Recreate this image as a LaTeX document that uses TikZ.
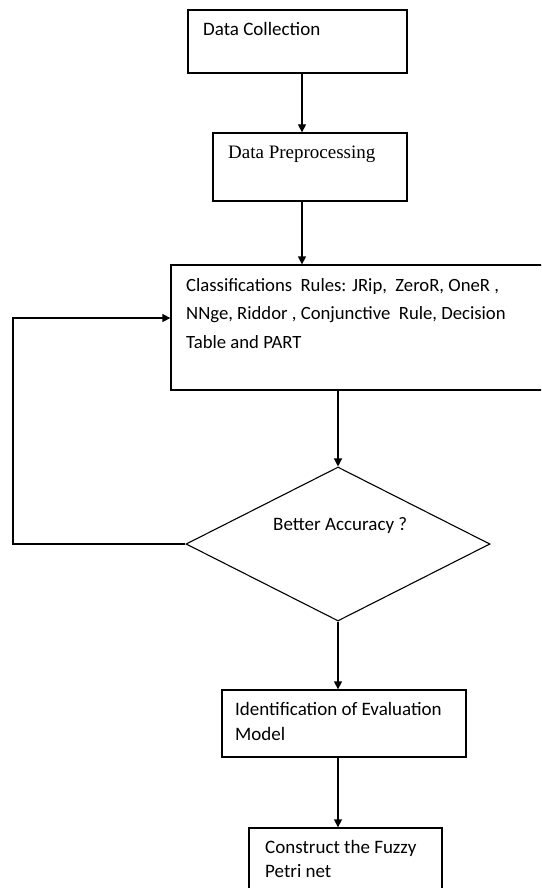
\documentclass[tikz,border=0pt]{standalone}
\usepackage{fontspec}
\setmainfont{Carlito}
\newfontfamily\cambria{Liberation Serif}
\usetikzlibrary{shapes.geometric,arrows.meta}

\begin{document}
\begin{tikzpicture}[x=1pt, y=-1pt, >={Triangle[width=8pt,length=8pt]}]
        \tikzstyle{box} = [draw, line width=1.3pt, rectangle, inner sep=0pt];
        \tikzstyle{decision} = [draw, line width=1.1pt, diamond, inner sep=0pt, minimum width=304pt, minimum height=154pt];
        \tikzstyle{txt} = [anchor=base west, inner sep=0pt, align=left];
        \tikzstyle{flow} = [->, line width=1.3pt];

        \clip (0,0) rectangle (541,888);

        % boxes
        \node(collect)[box, minimum width=219pt, minimum height=63pt] at (297.5,41.5){};
        \node(prep)[box, minimum width=194pt, minimum height=68pt] at (310,167){};
        \node(rules)[box, minimum width=389pt, minimum height=125pt] at (365.5,327.5){};
        \node(better)[decision] at (338,544){};
        \node(ident)[box, minimum width=244pt, minimum height=67pt] at (344,723.5){};
        \node(fuzzy)[box, minimum width=193pt, minimum height=82pt] at (345.5,869){};

        % texts (base = last line)
        \node(collect-txt)[txt, font=\fontsize{19}{29}\selectfont] at (203,36){Data Collection};
        \node(prep-txt)[txt, font=\cambria\fontsize{19}{29}\selectfont] at (228,158){Data Preprocessing};
        \node(rules-txt)[txt, font=\fontsize{18.7}{28.5}\selectfont] at (186,348){Classifications~ Rules: JRip,~ ZeroR, OneR ,\\NNge, Riddor , Conjunctive~ Rule, Decision\\Table and PART};
        \node(better-txt)[txt, font=\fontsize{19}{29}\selectfont] at (273,530){Better Accuracy ?};
        \node(ident-txt)[txt, font=\fontsize{19}{25}\selectfont] at (235,740){Identification of Evaluation\\Model};
        \node(fuzzy-txt)[txt, font=\fontsize{19}{24}\selectfont] at (265,877){Construct the Fuzzy\\Petri net};

        % connectors
        \coordinate(loop) at (13,318);
        \draw [flow] ([xshift=4.5pt]collect.south) -- ([xshift=-8pt]prep.north);
        \draw [flow] ([xshift=-8pt]prep.south) -- ([xshift=-8pt]prep.south |- rules.north);
        \draw [flow] (rules.south -| better.north) -- (better.north);
        \draw [flow] (better.west) -| (loop) -- (loop -| rules.west);
        \draw [flow] (better.south) -- (better.south |- ident.north);
        \draw [flow] (ident.south -| better.south) -- (fuzzy.north -| better.south);
    \end{tikzpicture}
\end{document}
